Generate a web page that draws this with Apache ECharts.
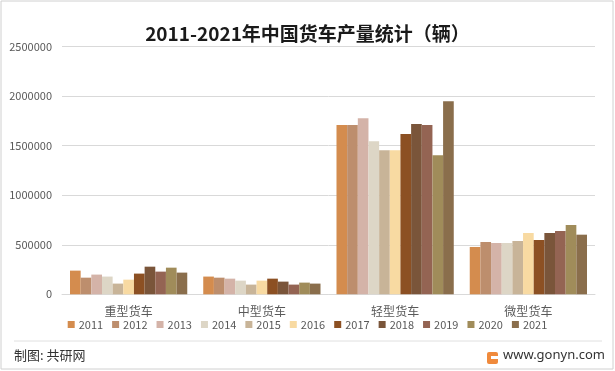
<!DOCTYPE html>
<html><head><meta charset="utf-8">
<script src="https://cdn.jsdelivr.net/npm/echarts@6/dist/echarts.min.js"></script>
<style>html,body{margin:0;padding:0;background:#fff}#c{width:615px;height:371px}</style>
</head><body><div id="c"></div>
<script>
const categories = ['重型货车', '中型货车', '轻型货车', '微型货车'];
const years = ['2011','2012','2013','2014','2015','2016','2017','2018','2019','2020','2021'];
const v2011 = [239000, 179000, 1710000, 478000];
const v2012 = [168000, 168000, 1710000, 528000];
const v2013 = [199000, 158000, 1778000, 518000];
const v2014 = [179000, 138000, 1545000, 518000];
const v2015 = [108000, 98000, 1455000, 538000];
const v2016 = [148000, 138000, 1455000, 619000];
const v2017 = [209000, 158000, 1619000, 548000];
const v2018 = [279000, 128000, 1720000, 619000];
const v2019 = [229000, 98000, 1710000, 639000];
const v2020 = [269000, 118000, 1404000, 700000];
const v2021 = [219000, 108000, 1950000, 602000];
const values = [v2011, v2012, v2013, v2014, v2015, v2016, v2017, v2018, v2019, v2020, v2021];
const colors = ['#D48C4E','#BD8E6D','#D4B3A8','#DDD6C6','#C8B498','#F8DAA2','#8C5023','#7A553A','#946453','#A08C5A','#8A6E4C'];
const yTicks = [0, 500000, 1000000, 1500000, 2000000, 2500000];

const chart = echarts.init(document.getElementById('c'), null, {renderer: 'canvas'});
const font = '"Noto Sans CJK SC", "Noto Sans", sans-serif';
chart.setOption({
  animation: false,
  color: colors,
  title: {
    text: '2011-2021年中国货车产量统计（辆）',
    left: 'center', top: 19,
    textStyle: {fontFamily: font, fontSize: 19, fontWeight: 'bold', color: '#1a1a1a'}
  },
  grid: {left: 62, right: 20, top: 46.7, bottom: 76.7},
  legend: {
    data: years, bottom: 36, left: 'center',
    itemWidth: 7, itemHeight: 7, itemGap: 9, icon: 'rect',
    textStyle: {fontFamily: font, fontSize: 11, color: '#595959', padding: [0,0,0,-1]}
  },
  xAxis: {
    type: 'category', data: categories,
    axisLine: {lineStyle: {color: '#d9d9d9', width: 1}},
    axisTick: {show: false},
    axisLabel: {fontFamily: font, fontSize: 12, color: '#595959', margin: 11}
  },
  yAxis: {
    type: 'value', min: yTicks[0], max: yTicks[yTicks.length-1], interval: 500000,
    axisLine: {show: false}, axisTick: {show: false},
    splitLine: {lineStyle: {color: '#d9d9d9'}},
    axisLabel: {fontFamily: font, fontSize: 11, color: '#595959', margin: 10, formatter: v => String(v)}
  },
  series: years.map((y, i) => ({
    name: y, type: 'bar', data: values[i],
    barGap: '0%', barCategoryGap: '12%'
  })),
  graphic: [
    {type: 'rect', shape: {x: 1, y: 1, width: 612, height: 368}, style: {fill: 'none', stroke: '#d0d0d0', lineWidth: 1}, silent: true},
    {type: 'line', shape: {x1: 14, y1: 341, x2: 602, y2: 341}, style: {stroke: '#e0e0e0', lineWidth: 1}},
    {type: 'text', left: 14, top: 349, style: {text: '制图: 共研网', font: '13px "Noto Sans CJK SC"', fill: '#333'}},
    {type: 'rect', shape: {x: 487, y: 352, width: 11, height: 12, r: 2}, style: {fill: '#F08A3C'}},
    {type: 'rect', shape: {x: 491, y: 356, width: 7, height: 3}, style: {fill: '#fff'}},
    {type: 'text', left: 503, top: 349, style: {text: 'www.gonyn.com', font: '13px "Noto Sans"', fill: '#333'}}
  ]
});
</script></body></html>
